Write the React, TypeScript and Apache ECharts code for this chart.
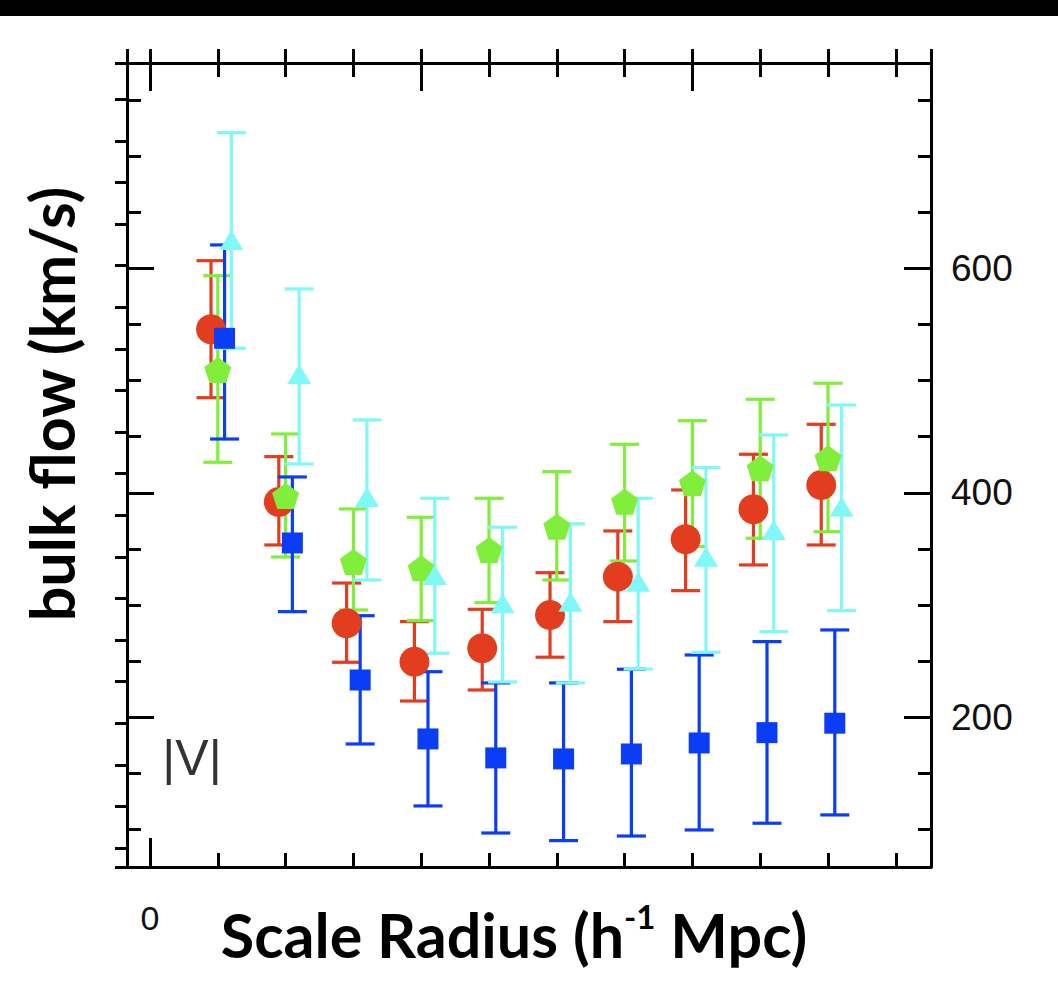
import React, { useEffect, useRef } from "react";
import * as echarts from "echarts";

// Axis extents (data units)
const X_MIN = -3.39;
const X_MAX = 115.19;
const Y_MIN = 66.6;
const Y_MAX = 782.9;

// Scale radius positions for each sample (h^-1 Mpc)
const redX = [9, 19, 29, 39, 49, 59, 69, 79, 89, 99];
const greenX = [10, 20, 30, 40, 50, 60, 70, 80, 90, 100];
const blueX = [11, 21, 31, 41, 51, 61, 71, 81, 91, 101];
const cyanX = [12, 22, 32, 42, 52, 62, 72, 82, 92, 102];

// Bulk flow |V| (km/s) and error range
const redV = [545.7, 391.8, 283.7, 249.5, 261.5, 291.1, 325.3, 358.6, 385.3, 406.9];
const redHi = [606.8, 432.2, 319.6, 285.2, 296.2, 328.8, 366.0, 402.5, 434.3, 461.0];
const redLo = [484.7, 353.5, 249.0, 214.5, 224.3, 253.5, 285.2, 312.8, 335.7, 353.5];

const greenV = [509.4, 397.1, 338.4, 332.7, 349.0, 369.8, 392.1, 408.5, 421.8, 430.7];
const greenHi = [593.4, 452.4, 385.6, 378.2, 395.1, 418.8, 443.2, 464.2, 483.3, 497.6];
const greenLo = [427.2, 342.8, 295.6, 286.1, 302.1, 322.3, 339.2, 352.0, 359.5, 365.3];

const blueV = [537.6, 355.3, 233.2, 180.7, 163.8, 162.9, 167.3, 177.1, 186.3, 194.7];
const blueHi = [620.8, 414.1, 290.5, 240.6, 230.6, 230.6, 242.8, 255.5, 267.4, 277.8];
const blueLo = [447.9, 294.1, 176.2, 121.0, 96.9, 90.1, 94.2, 99.6, 105.6, 113.0];

const cyanV = [625.2, 505.8, 396.3, 326.8, 301.6, 303.0, 320.8, 343.1, 366.9, 387.6];
const cyanHi = [720.8, 581.6, 464.9, 395.1, 369.3, 372.3, 395.1, 422.4, 451.5, 478.2];
const cyanLo = [528.7, 425.7, 322.3, 257.0, 231.5, 230.6, 243.0, 257.9, 276.3, 295.0];

// Tick positions / labels
const xMinorTicks = [10, 20, 30, 40, 50, 60, 70, 80, 90, 100, 110];
const xMajorTicks = [0, 40, 80];
const xLabelValues = [0];
const yMinorTicks = [100, 150, 250, 300, 350, 450, 500, 550, 650, 700, 750];
const yMajorTicks = [200, 400, 600];
const yLabelValues = [200, 400, 600];
const yOuterTicks = [
  83.5, 120.6, 157.6, 194.7, 231.7, 268.8, 305.9, 342.9, 380.0, 417.0,
  454.1, 491.2, 528.2, 565.3, 602.3, 639.4, 676.5, 713.5, 750.6,
];

const RED = "#E23D1F";
const GREEN = "#80EE3A";
const BLUE = "#0B3DF7";
const CYAN = "#80F8F8";

const PENTAGON = "path://M50 0L100 36.3L80.9 95.1L19.1 95.1L0 36.3Z";

const LINE = { color: "#000", width: 3 };

function errSeries(name: string, xs: number[], v: number[], lo: number[], hi: number[], color: string) {
  return {
    type: "custom",
    name: name + " err",
    xAxisIndex: 0,
    yAxisIndex: 0,
    silent: true,
    clip: false,
    encode: { x: 0, y: 1 },
    data: xs.map((x, i) => [x, v[i], lo[i], hi[i]]),
    renderItem: (params: any, api: any) => {
      const x = api.value(0);
      const pLo = api.coord([x, api.value(2)]);
      const pHi = api.coord([x, api.value(3)]);
      const w = 14.5;
      const st = { stroke: color, lineWidth: 3.2 };
      return {
        type: "group",
        children: [
          { type: "line", shape: { x1: pLo[0], y1: pLo[1], x2: pHi[0], y2: pHi[1] }, style: st },
          { type: "line", shape: { x1: pHi[0] - w, y1: pHi[1], x2: pHi[0] + w, y2: pHi[1] }, style: st },
          { type: "line", shape: { x1: pLo[0] - w, y1: pLo[1], x2: pLo[0] + w, y2: pLo[1] }, style: st },
        ],
      };
    },
  };
}

function markSeries(name: string, xs: number[], v: number[], color: string, symbol: string, size: any) {
  return {
    type: "scatter",
    name,
    xAxisIndex: 0,
    yAxisIndex: 0,
    silent: true,
    symbol,
    symbolSize: size,
    itemStyle: { color, opacity: 1 },
    data: xs.map((x, i) => [x, v[i]]),
  };
}

export default function App() {
  const ref = useRef<HTMLDivElement>(null);

  useEffect(() => {
    if (!ref.current) return;
    const chart = echarts.init(ref.current, undefined, { renderer: "svg" });

    const baseX = {
      type: "value",
      gridIndex: 0,
      min: X_MIN,
      max: X_MAX,
      splitLine: { show: false },
      axisLabel: { show: false },
      axisLine: { show: false, onZero: false },
    };
    const baseY = {
      type: "value",
      gridIndex: 0,
      min: Y_MIN,
      max: Y_MAX,
      splitLine: { show: false },
      axisLabel: { show: false },
      axisLine: { show: false, onZero: false },
    };

    const option: any = {
      animation: false,
      backgroundColor: "#fff",
      grid: { left: 127, top: 63, width: 804, height: 804, containLabel: false },
      xAxis: [
        {
          ...baseX,
          position: "bottom",
          axisLine: { show: true, onZero: false, lineStyle: LINE },
          axisTick: { show: true, inside: true, length: 14, customValues: xMinorTicks, lineStyle: LINE },
        },
        {
          ...baseX,
          position: "bottom",
          axisTick: { show: true, inside: true, length: 29, customValues: xLabelValues, lineStyle: LINE },
          axisLabel: {
            show: true,
            customValues: xLabelValues,
            margin: 34,
            fontSize: 34,
            fontFamily: "Liberation Sans",
            color: "#111",
          },
        },
        {
          ...baseX,
          position: "top",
          axisLine: { show: true, onZero: false, lineStyle: LINE },
          axisTick: {
            show: true,
            inside: false,
            length: 14,
            customValues: [X_MIN, ...xMajorTicks.slice(0, 1), ...xMinorTicks, X_MAX],
            lineStyle: LINE,
          },
        },
        {
          ...baseX,
          position: "top",
          axisTick: { show: true, inside: true, length: 14, customValues: xMinorTicks, lineStyle: LINE },
        },
        {
          ...baseX,
          position: "top",
          axisTick: { show: true, inside: true, length: 28, customValues: xMajorTicks, lineStyle: LINE },
        },
      ],
      yAxis: [
        {
          ...baseY,
          position: "right",
          axisLine: { show: true, onZero: false, lineStyle: LINE },
          axisTick: { show: true, inside: true, length: 13, customValues: yMinorTicks, lineStyle: LINE },
        },
        {
          ...baseY,
          position: "right",
          axisTick: { show: true, inside: true, length: 27, customValues: yMajorTicks, lineStyle: LINE },
          axisLabel: {
            show: true,
            customValues: yLabelValues,
            margin: 20,
            fontSize: 37,
            fontFamily: "Liberation Sans",
            color: "#111",
          },
        },
        {
          ...baseY,
          position: "left",
          axisLine: { show: true, onZero: false, lineStyle: LINE },
          axisTick: { show: true, inside: true, length: 14, customValues: yMinorTicks, lineStyle: LINE },
        },
        {
          ...baseY,
          position: "left",
          axisTick: { show: true, inside: true, length: 27, customValues: yMajorTicks, lineStyle: LINE },
        },
        {
          ...baseY,
          position: "left",
          axisTick: {
            show: true,
            inside: false,
            length: 12,
            customValues: [Y_MIN, ...yOuterTicks, Y_MAX],
            lineStyle: LINE,
          },
        },
      ],
      graphic: [
        { type: "rect", left: 0, top: 0, shape: { x: 0, y: 0, width: 1058, height: 16 }, style: { fill: "#000" } },
        {
          type: "text",
          x: 514,
          y: 934,
          style: {
            text: "{a|Scale Radius (h}{s|-1}{a| Mpc)}",
            align: "center",
            verticalAlign: "middle",
            rich: {
              a: { fontSize: 61, fontWeight: "bold", fontFamily: "Lato", fill: "#000", lineHeight: 70 },
              s: { fontSize: 33, fontWeight: "bold", fontFamily: "Lato", fill: "#000", verticalAlign: "top" },
            },
          },
        },
        {
          type: "text",
          x: 51,
          y: 404,
          rotation: Math.PI / 2,
          style: {
            text: "bulk flow (km/s)",
            align: "center",
            verticalAlign: "middle",
            fontSize: 61,
            fontWeight: "bold",
            fontFamily: "Lato",
            fill: "#000",
          },
        },
        {
          type: "text",
          x: 192,
          y: 758,
          style: {
            text: "|V|",
            align: "center",
            verticalAlign: "middle",
            fontSize: 50,
            fontFamily: "Liberation Sans",
            fill: "#333",
          },
        },
      ],
      series: [
        errSeries("red", redX, redV, redLo, redHi, RED),
        markSeries("red", redX, redV, RED, "circle", 30),
        errSeries("green", greenX, greenV, greenLo, greenHi, GREEN),
        markSeries("green", greenX, greenV, GREEN, PENTAGON, [27, 26]),
        errSeries("blue", blueX, blueV, blueLo, blueHi, BLUE),
        markSeries("blue", blueX, blueV, BLUE, "rect", 21),
        errSeries("cyan", cyanX, cyanV, cyanLo, cyanHi, CYAN),
        markSeries("cyan", cyanX, cyanV, CYAN, "triangle", [24, 20]),
      ],
    };

    chart.setOption(option);
    return () => chart.dispose();
  }, []);

  return (
    <div
      ref={ref}
      style={{ position: "absolute", left: 0, top: 0, width: 1058, height: 982, background: "#fff" }}
    />
  );
}
